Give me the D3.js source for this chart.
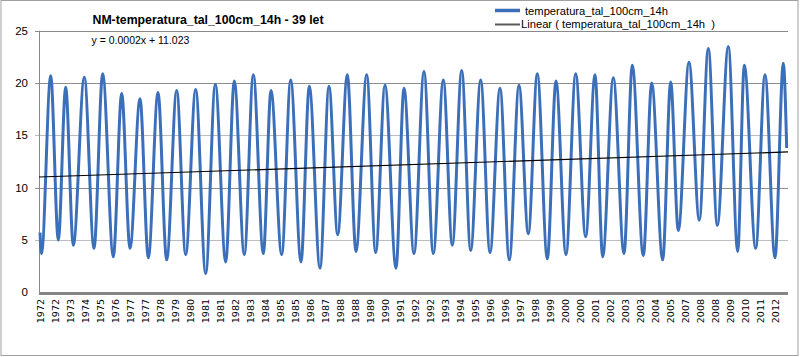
<!DOCTYPE html>
<html><head><meta charset="utf-8">
<script src="https://cdn.jsdelivr.net/npm/d3@7"></script>
<style>body{margin:0;background:#fff}svg{display:block}</style>
</head><body>
<script>
// ---- data ----
const titleText = "NM-temperatura_tal_100cm_14h - 39 let";
const seriesName = "temperatura_tal_100cm_14h";
const trendSlope = 0.0002;
const trendIntercept = 11.023;
const yTicks = [0, 5, 10, 15, 20, 25];
const labelStep = 240; // data points between category labels
const xLabels = ["1972","1972","1973","1974","1975","1976","1977","1977","1978","1979","1980","1981","1981","1982","1983","1984","1985","1985","1986","1987","1988","1988","1989","1990","1991","1992","1992","1993","1994","1995","1996","1996","1997","1998","1999","2000","2000","2001","2002","2003","2003","2004","2005","2007","2008","2008","2009","2010","2011","2012"];
// seasonal turning points: day index and temperature
const pointDay = [16,40,187,309,427,549,725,880,1019,1189,1323,1456,1616,1749,1904,2043,2203,2347,2507,2667,2821,2987,3125,3285,3429,3589,3712,3883,4027,4192,4325,4496,4640,4779,4933,5072,5243,5387,5536,5712,5840,6000,6160,6309,6469,6613,6763,6907,7067,7216,7376,7525,7680,7829,7973,8133,8272,8432,8587,8747,8896,9019,9189,9360,9493,9669,9803,9979,10107,10229,10400,10565,10709,10853,11029,11179,11285,11467,11616,11776,11909,11963];
const pointTemp = [5.7,3.7,20.7,5.0,19.6,4.5,20.55,4.2,20.9,3.4,19.0,4.2,18.5,3.3,19.1,3.1,19.3,3.6,19.4,1.8,19.9,2.9,20.2,3.6,20.8,3.7,19.3,3.6,20.3,2.9,19.7,2.3,19.7,5.5,20.8,3.9,20.8,3.8,19.8,2.3,19.5,3.7,21.1,3.7,20.3,4.5,21.2,4.0,20.3,3.8,19.5,3.1,19.8,5.6,20.9,3.2,20.2,3.6,20.9,5.3,20.8,3.4,20.5,3.7,21.7,3.5,20.0,3.1,20.1,5.9,22.0,6.9,23.3,6.4,23.5,3.9,21.7,4.2,20.8,3.3,21.9,13.8];
const totalDays = 11984;

// ---- drawing ----
const W = 800, H = 357;
const svg = d3.select("body").append("svg").attr("width", W).attr("height", H);
svg.append("rect").attr("x",1).attr("y",0.5).attr("width",797).attr("height",355)
  .attr("fill","#fff").attr("stroke","#a0a0a0");

const x = d3.scaleLinear().domain([0, totalDays]).range([39, 788]);
const y = d3.scaleLinear().domain([0, 25]).range([292.3, 30.8]);

// gridlines
const g = svg.append("g");
yTicks.forEach((t, i) => {
  if (t === 0) return;
  g.append("line").attr("x1", 35).attr("x2", 788)
    .attr("y1", Math.round(y(t)) + 0.5).attr("y2", Math.round(y(t)) + 0.5)
    .attr("stroke", (t === 25) ? "#8a8a8a" : (t % 10 === 0 ? "#8e8e8e" : "#bdbdbd")).attr("stroke-width", 1);
});
// y axis line
g.append("line").attr("x1", 39.5).attr("x2", 39.5).attr("y1", y(25)).attr("y2", y(0))
  .attr("stroke", "#8a8a8a");
// y labels
yTicks.forEach(t => {
  svg.append("text").attr("x", 28).attr("y", y(t) + 4)
    .attr("text-anchor", "end").attr("font-family", "Liberation Sans, Arial, sans-serif")
    .attr("font-size", 11.5).attr("fill", "#000").text(t);
});

// series line
const pts = pointDay.map((d, i) => [d, pointTemp[i]]);
const line = d3.line().x(d => x(d[0])).y(d => y(d[1])).curve(d3.curveMonotoneX);
svg.append("path").datum(pts).attr("d", line).attr("fill", "none")
  .attr("stroke", "#3b6fb9").attr("stroke-width", 3).attr("stroke-linejoin", "round");

// trendline
svg.append("line")
  .attr("x1", x(0)).attr("y1", y(trendIntercept))
  .attr("x2", x(totalDays)).attr("y2", y(trendIntercept + trendSlope * totalDays))
  .attr("stroke", "#000").attr("stroke-width", 1.2);

// x axis line
svg.append("line").attr("x1", 39).attr("x2", 788).attr("y1", 293.6).attr("y2", 293.6)
  .attr("stroke", "#858585").attr("stroke-width", 3);

// x labels
xLabels.forEach((lab, i) => {
  const px = x(i * labelStep) + 1.5;
  svg.append("text").attr("transform", `translate(${px},299) rotate(-90)`)
    .attr("text-anchor", "end").attr("dy", "0.35em")
    .attr("font-family", "DejaVu Sans, Verdana, sans-serif").attr("font-size", 9.5)
    .attr("fill", "#000").text(lab);
});

// title
svg.append("text").attr("x", 92.5).attr("y", 24)
  .attr("font-family", "Liberation Sans, Arial, sans-serif").attr("font-weight", "bold")
  .attr("font-size", 12.3).attr("fill", "#000").text(titleText);
// equation
svg.append("text").attr("x", 91.5).attr("y", 43.5)
  .attr("font-family", "Liberation Sans, Arial, sans-serif")
  .attr("font-size", 10.5).attr("fill", "#000")
  .text(`y = ${trendSlope}x + ${trendIntercept}`);

// legend
const lg = svg.append("g");
lg.append("line").attr("x1", 495).attr("x2", 520).attr("y1", 10.5).attr("y2", 10.5)
  .attr("stroke", "#3b6fb9").attr("stroke-width", 3.5);
lg.append("text").attr("x", 525).attr("y", 14.5)
  .attr("font-family", "Liberation Sans, Arial, sans-serif").attr("font-size", 11.2)
  .text(seriesName);
lg.append("line").attr("x1", 495).attr("x2", 520).attr("y1", 24.5).attr("y2", 24.5)
  .attr("stroke", "#5a5a5a").attr("stroke-width", 2);
lg.append("text").attr("x", 521).attr("y", 28)
  .attr("font-family", "Liberation Sans, Arial, sans-serif").attr("font-size", 11.2)
  .attr("xml:space", "preserve")
  .text(`Linear ( ${seriesName}  )`);
</script>
</body></html>
